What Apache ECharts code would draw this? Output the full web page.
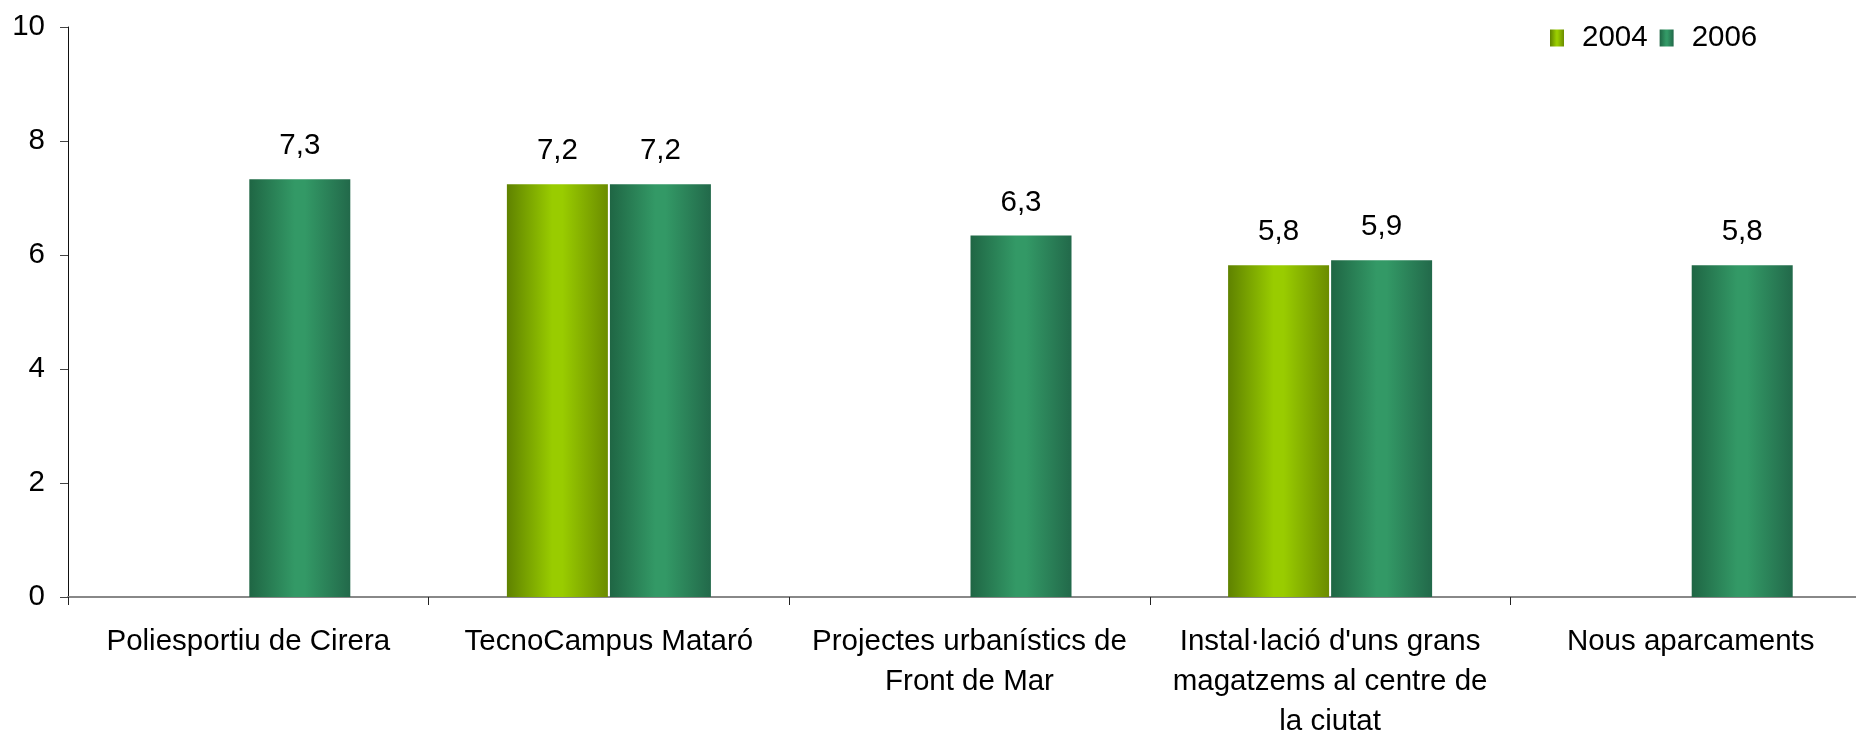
<!DOCTYPE html>
<html lang="ca">
<head>
    <meta charset="utf-8"/>
    <title>Valoració de projectes</title>
    <script src="https://cdn.jsdelivr.net/npm/echarts@6/dist/echarts.min.js"></script>
    <style>
        html, body { margin: 0; padding: 0; background: #fff; }
        #chart { width: 1856px; height: 735px; }
    </style>
</head>
<body>
<div id="chart"></div>
<script>
    // data
    const categories = [
        'Poliesportiu de Cirera',
        'TecnoCampus Mataró',
        'Projectes urbanístics de\nFront de Mar',
        'Instal·lació d\'uns grans\nmagatzems al centre de\nla ciutat',
        'Nous aparcaments'
    ];
    const seriesNames = ['2004', '2006'];
    const values2004 = [null, 7.24, null, 5.82, null];
    const values2006 = [7.33, 7.24, 6.34, 5.91, 5.82];
    const yTicks = [0, 2, 4, 6, 8, 10];

    const font = "'Liberation Sans', Arial, Helvetica, sans-serif";

    function barGradient(edgeL, mid, edgeR) {
        return new echarts.graphic.LinearGradient(0, 0, 1, 0, [
            { offset: 0, color: edgeL },
            { offset: 0.45, color: mid },
            { offset: 0.55, color: mid },
            { offset: 1, color: edgeR }
        ]);
    }

    const chart = echarts.init(document.getElementById('chart'));
    const valueLabel = {
        show: true,
        position: 'top',
        distance: 18,
        color: '#000',
        fontFamily: font,
        fontSize: 29.5,
        formatter: p => p.value == null ? '' : p.value.toFixed(1).replace('.', ',')
    };

    const option = {
        animation: false,
        textStyle: { fontFamily: font },
        grid: {
            left: 68, top: 27, width: 1803, height: 570,
            outerBoundsMode: 'none', containLabel: false
        },
        legend: {
            data: seriesNames,
            left: 1550, top: 23,
            padding: 0,
            itemWidth: 14, itemHeight: 17, itemGap: 12,
            icon: 'rect',
            textStyle: { fontFamily: font, fontSize: 29.5, color: '#000', padding: [0, 0, 0, 13] }
        },
        xAxis: {
            type: 'category',
            data: categories,
            axisLine: { lineStyle: { color: '#888', width: 2 } },
            axisTick: { show: true, length: 8, interval: 0, lineStyle: { color: '#222' } },
            axisLabel: {
                interval: 0, margin: 25, color: '#000',
                fontFamily: font, fontSize: 29.5, lineHeight: 40, align: 'center'
            }
        },
        yAxis: {
            type: 'value',
            min: yTicks[0], max: yTicks[yTicks.length - 1], interval: 2,
            splitLine: { show: false },
            axisLine: { show: true, lineStyle: { color: '#111', width: 1 } },
            axisTick: { show: true, length: 8, lineStyle: { color: '#444' } },
            axisLabel: { margin: 23, color: '#000', fontFamily: font, fontSize: 29.5 }
        },
        series: [
            {
                name: seriesNames[0], type: 'bar', data: values2004,
                barWidth: 101, barGap: '2%',
                itemStyle: { color: barGradient('#5f8200', '#99cc00', '#6b8c00') },
                label: valueLabel
            },
            {
                name: seriesNames[1], type: 'bar', data: values2006,
                barWidth: 101, barGap: '2%',
                itemStyle: { color: barGradient('#1f6644', '#339966', '#22694a') },
                label: valueLabel
            }
        ]
    };
    chart.setOption(option);
</script>
</body>
</html>
